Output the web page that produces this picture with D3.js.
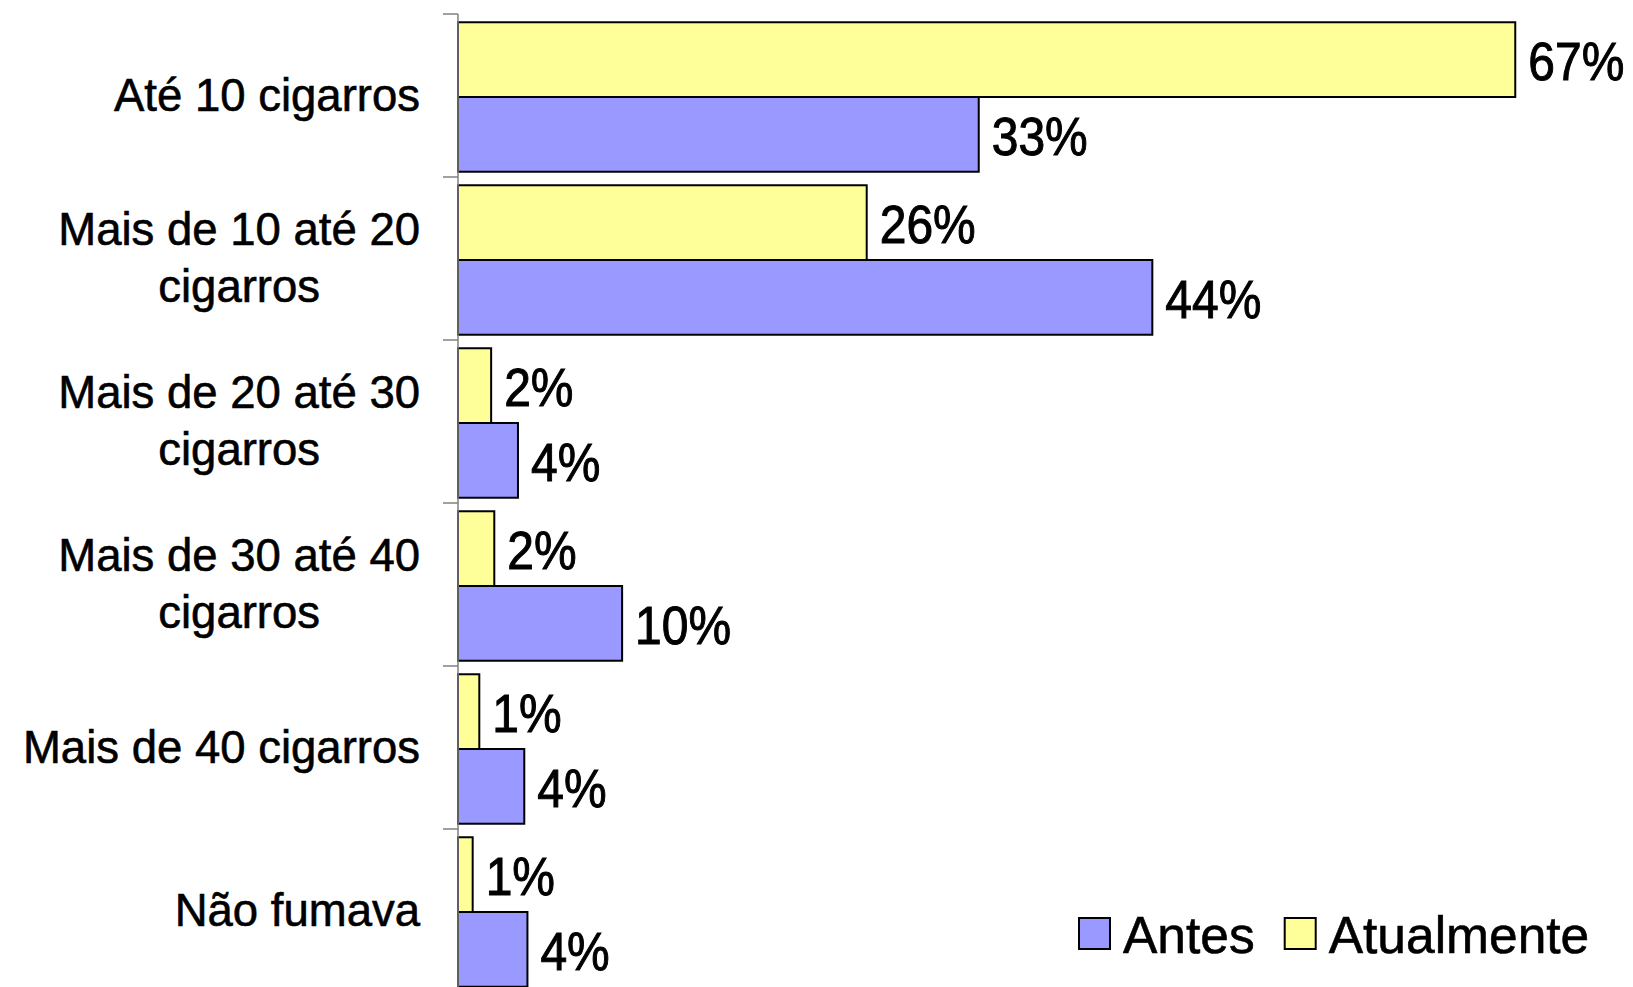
<!DOCTYPE html>
<html><head><meta charset="utf-8">
<script src="https://cdn.jsdelivr.net/npm/d3@7"></script>
<style>html,body{margin:0;padding:0;background:#fff;overflow:hidden}</style>
</head><body><svg id="chart" width="1633" height="987"></svg>
<script>
const categories = ["Até 10 cigarros", "Mais de 10 até 20\ncigarros", "Mais de 20 até 30\ncigarros", "Mais de 30 até 40\ncigarros", "Mais de 40 cigarros", "Não fumava"];
const seriesNames = ["Antes", "Atualmente"];
const antes = [33, 44, 3.8, 10.4, 4.2, 4.4];
const atualmente = [67, 25.9, 2.1, 2.3, 1.35, 0.93];
const seriesColors = ["#9999FF", "#FFFF99"];

const svg = d3.select("#chart");
const FONT = "'Liberation Sans', Arial, Helvetica, sans-serif";
const axisX = 458;
const step = 163;
const x = d3.scaleLinear().domain([0, 70]).range([axisX, axisX + 70 * 15.78]);
const yTicks = d3.scaleBand().domain(categories).range([14, 14 + categories.length * step]).padding(0);
const y = d3.scaleBand().domain(categories).range([15.5, 15.5 + categories.length * step])
  .paddingInner(0.083).paddingOuter(0.0415);
const yInner = d3.scaleBand().domain(["Atualmente", "Antes"]).range([0, y.bandwidth()]);
const color = d3.scaleOrdinal().domain(seriesNames).range(seriesColors);

const data = [];
categories.forEach((c, i) => {
  data.push({cat: c, s: "Atualmente", v: atualmente[i]});
  data.push({cat: c, s: "Antes", v: antes[i]});
});

// bars
svg.append("g").selectAll("rect").data(data).join("rect")
  .attr("x", x(0))
  .attr("y", d => y(d.cat) + yInner(d.s))
  .attr("width", d => x(d.v) - x(0))
  .attr("height", yInner.bandwidth())
  .attr("fill", d => color(d.s))
  .attr("stroke", "#000")
  .attr("stroke-width", 2);

// axis line and ticks
const axis = svg.append("g");
axis.append("line").attr("x1", axisX).attr("x2", axisX)
  .attr("y1", yTicks.range()[0]).attr("y2", yTicks.range()[1])
  .attr("stroke", "#808080").attr("stroke-width", 1.5);
const tickPos = categories.map(c => yTicks(c)).concat([yTicks.range()[1]]);
axis.selectAll("line.tick").data(tickPos).join("line").attr("class", "tick")
  .attr("x1", axisX - 15).attr("x2", axisX)
  .attr("y1", d => d).attr("y2", d => d)
  .attr("stroke", "#808080").attr("stroke-width", 1.5);

// category labels
const lh = 56.4;
categories.forEach(c => {
  const lines = c.split("\n");
  const t = svg.append("text").attr("font-family", FONT).attr("font-size", 45.5).attr("fill", "#000")
    .attr("stroke", "#000").attr("stroke-width", 0.6)
    .attr("text-anchor", "middle");
  const center = yTicks(c) + yTicks.bandwidth() / 2;
  const tsp = lines.map((ln, j) => t.append("tspan").text(ln)
    .attr("y", center - (lines.length - 1) * lh / 2 + j * lh + 15));
  const maxW = d3.max(tsp, s => s.node().getComputedTextLength());
  tsp.forEach(s => s.attr("x", 420 - maxW / 2));
});

// value labels
svg.append("g").selectAll("text").data(data).join("text")
  .attr("transform", d => `translate(${x(d.v) + 13},${y(d.cat) + yInner(d.s) + yInner.bandwidth() / 2 + 1.5}) scale(1,1.12)`)
  .attr("dy", "0.358em")
  .attr("font-family", FONT).attr("font-size", 48).attr("fill", "#000")
  .attr("stroke", "#000").attr("stroke-width", 0.9)
  .text(d => Math.round(d.v) + "%");

// legend
const leg = svg.append("g");
let lx = 1079;
seriesNames.forEach(s => {
  leg.append("rect").attr("x", lx).attr("y", 918).attr("width", 31).attr("height", 31)
    .attr("fill", color(s)).attr("stroke", "#000").attr("stroke-width", 2);
  const t = leg.append("text").attr("x", lx + 44).attr("y", 953)
    .attr("font-family", FONT).attr("font-size", 51.5).attr("fill", "#000")
    .attr("stroke", "#000").attr("stroke-width", 0.6).text(s);
  lx = lx + 44 + t.node().getComputedTextLength() + 30;
});
</script></body></html>
